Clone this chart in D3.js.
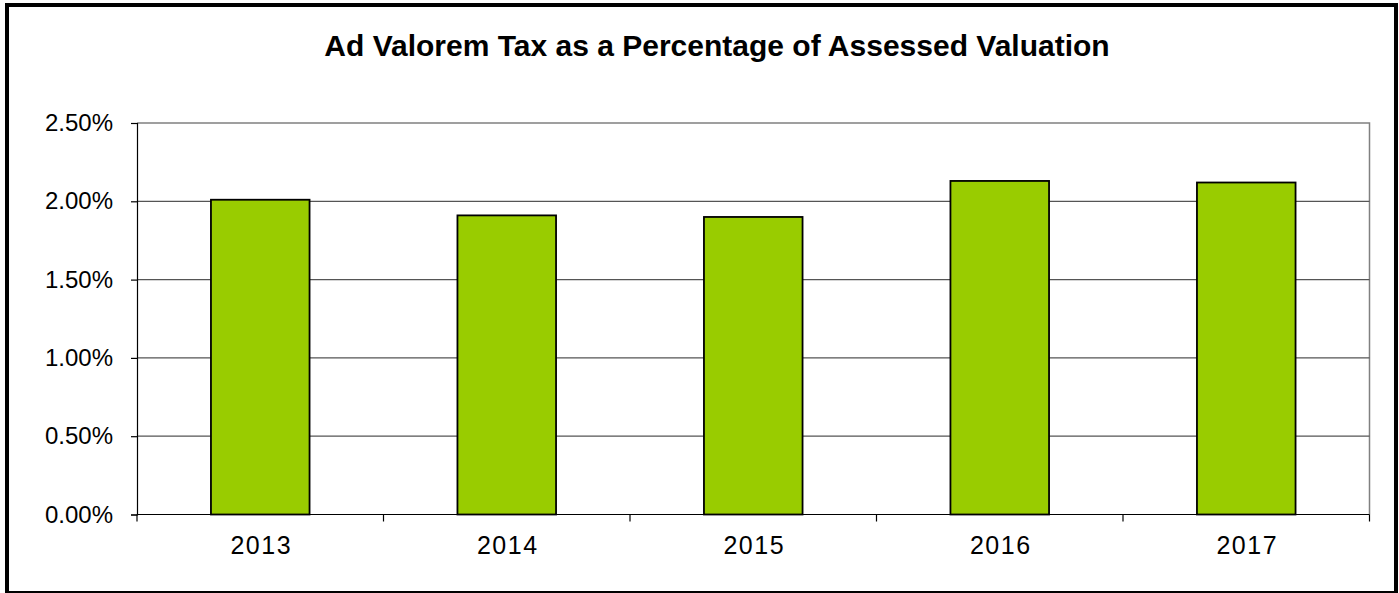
<!DOCTYPE html>
<html>
<head>
<meta charset="utf-8">
<script src="https://cdn.jsdelivr.net/npm/d3@7/dist/d3.min.js"></script>
<style>
  html, body { margin: 0; padding: 0; background: #fff; }
  svg { display: block; font-family: Arial, "Liberation Sans", sans-serif; }
</style>
</head>
<body>
<svg id="chart" width="1399" height="593"></svg>
<script>
// Data
const title = "Ad Valorem Tax as a Percentage of Assessed Valuation";
const years = ["2013", "2014", "2015", "2016", "2017"];
const taxPct = [2.01, 1.91, 1.90, 2.13, 2.12];
const yTicks = [0, 0.5, 1.0, 1.5, 2.0, 2.5];

const svg = d3.select("#chart");

// Outer chart frame
svg.append("rect")
  .attr("x", 7).attr("y", 5)
  .attr("width", 1389).attr("height", 588)
  .attr("fill", "#fff")
  .attr("stroke", "#000")
  .attr("stroke-width", 4);

// Plot area
const plot = { left: 137, right: 1369.5, top: 123, bottom: 514.5 };

const x = d3.scaleBand()
  .domain(years)
  .range([plot.left, plot.right])
  .paddingInner(0.6)
  .paddingOuter(0.3);

const xOuter = d3.scaleBand()
  .domain(years)
  .range([plot.left, plot.right])
  .padding(0);

const y = d3.scaleLinear()
  .domain([0, 2.5])
  .range([plot.bottom, plot.top]);

// Title
svg.append("text")
  .attr("x", 717)
  .attr("y", 56)
  .attr("text-anchor", "middle")
  .attr("font-weight", "bold")
  .attr("font-size", 30)
  .attr("fill", "#000")
  .text(title);

// Plot area border (top & right)
svg.append("path")
  .attr("d", `M${plot.left},${plot.top}H${plot.right}V${plot.bottom}`)
  .attr("fill", "none")
  .attr("stroke", "#808080")
  .attr("stroke-width", 1.5);

// Horizontal gridlines
svg.append("g")
  .selectAll("line")
  .data(yTicks.filter(d => d > 0 && d < 2.5))
  .join("line")
  .attr("x1", plot.left).attr("x2", plot.right)
  .attr("y1", d => y(d)).attr("y2", d => y(d))
  .attr("stroke", "#555")
  .attr("stroke-width", 1.2);

// Bars
svg.append("g")
  .selectAll("rect")
  .data(years.map((yr, i) => ({ yr, v: taxPct[i] })))
  .join("rect")
  .attr("x", d => x(d.yr))
  .attr("y", d => y(d.v))
  .attr("width", x.bandwidth())
  .attr("height", d => y(0) - y(d.v))
  .attr("fill", "#99CC00")
  .attr("stroke", "#000")
  .attr("stroke-width", 1.8);

// Y axis
const yAxis = d3.axisLeft(y)
  .tickValues(yTicks)
  .tickFormat(d => d3.format(".2f")(d) + "%")
  .tickSize(6)
  .tickPadding(18);

const gy = svg.append("g")
  .attr("transform", `translate(${plot.left},0)`)
  .call(yAxis);
gy.select(".domain").attr("stroke", "#000").attr("stroke-width", 1.2);
gy.selectAll(".tick line").attr("stroke", "#000").attr("stroke-width", 1.2);
gy.selectAll(".tick text")
  .attr("font-size", 24)
  .attr("font-family", "Arial, 'Liberation Sans', sans-serif")
  .attr("fill", "#000");

// X axis: category labels centred, tick marks on the category boundaries
const gx = svg.append("g")
  .attr("transform", `translate(0,${plot.bottom})`);
gx.append("line")
  .attr("x1", plot.left).attr("x2", plot.right)
  .attr("stroke", "#000").attr("stroke-width", 1.2);
const bounds = years.map(d => xOuter(d)).concat([plot.right]);
gx.selectAll("line.tick")
  .data(bounds)
  .join("line")
  .attr("class", "tick")
  .attr("x1", d => d).attr("x2", d => d)
  .attr("y1", 0).attr("y2", 7)
  .attr("stroke", "#000").attr("stroke-width", 1.2);
gx.selectAll("text")
  .data(years)
  .join("text")
  .attr("x", d => xOuter(d) + xOuter.bandwidth() / 2 + 1)
  .attr("y", 39)
  .attr("text-anchor", "middle")
  .attr("font-size", 25)
  .attr("letter-spacing", 1.5)
  .attr("fill", "#000")
  .text(d => d);
</script>
</body>
</html>
